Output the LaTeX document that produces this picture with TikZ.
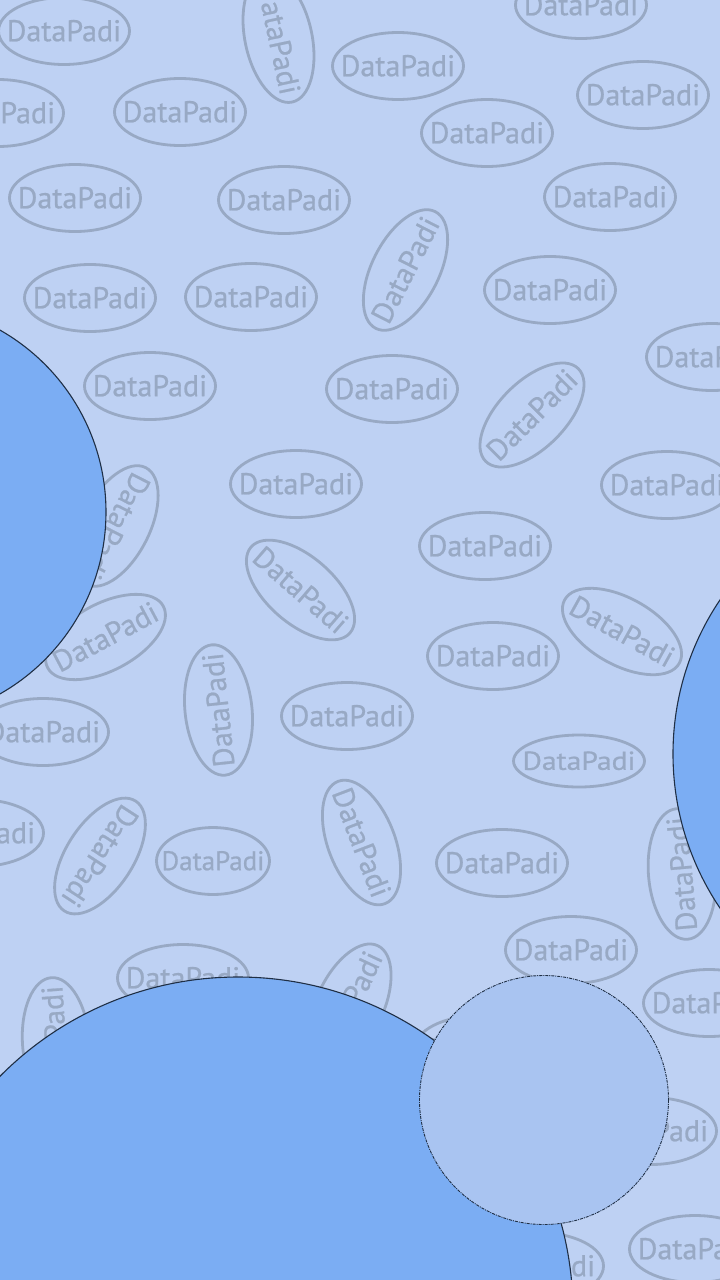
\documentclass[tikz,border=0pt]{standalone}
\usepackage{fontspec}
\newfontfamily\padfont{PT Sans}[FakeBold=0.7]
\usetikzlibrary{shapes.geometric}
\definecolor{bgc}{HTML}{BED1F3}
\definecolor{padc}{HTML}{98A9C4}
\definecolor{bluec}{HTML}{7BADF3}
\definecolor{lightc}{HTML}{A9C4F1}
\definecolor{edgec}{HTML}{1F2F45}
\newcommand{\padtext}[1][1]{\smash{\makebox[0pt]{\raisebox{-.34em}{\scalebox{#1}[1]{DataPadi}}}}}
\tikzset{
  padmark/.style={ellipse,draw=padc,line width=2.8pt,text=padc,inner sep=0pt,outer sep=0pt,
    minimum width=131pt,minimum height=67pt,font=\padfont\fontsize{30}{30}\selectfont},
  bigdisc/.style={fill=bluec,draw=edgec,line width=1.1pt},
  ghostdisc/.style={fill=lightc,draw=edgec,line width=.9pt,dash pattern=on 3pt off 1pt on 1pt off 1pt},
}
\begin{document}
\begin{tikzpicture}[x=1pt,y=-1pt]
\useasboundingbox (0,0) rectangle (720,1280);
\clip (0,0) rectangle (720,1280);
\fill[bgc] (0,0) rectangle (720,1280);
\foreach \n/\x/\y/\r in {
 a/64/31/0, b/278.5/38/-78, c/398/66/0, d/581/5/0, e/643/95/0, f/-2/113/0, g/180/112/0,
 h/487/133/0, i/75/198/0, j/284/200/0, k/610/197/0, l/90/298/0, m/251/297/0, n/405.5/270/63,
 o/550/290/0, q/712/357/0, r/150/386/0, s/392/389/0, t/532/415/45, u/296/484/0, v/667/485/0,
 w/116/526/243, x/485/546/0, y/300.5/590/-41, z/622/631.5/-29, aa/105.5/637/28, ab/493/656/0,
 ac/218.5/710/96, ad/347/716/0, ae/43/732/0, af/-22/833/0, ag/100/856/237, ah/361.5/842.5/-69,
 ai/502/863/0, aj/682/874/95, ak/571/950/0, al/183/978/0, am/56/1043/94, an/350/1005/65,
 ao/709/1003/0, ap/480/1049/0, aq/651/1131/0, ar/695/1249/0, as/538/1266/0}
 {\node[padmark,rotate=\r] (p\n) at (\x,\y) {\padtext};}
\node[padmark,minimum width=131pt,minimum height=52pt,font=\padfont\fontsize{26}{26}\selectfont] (pat) at (579,761) {\padtext[1.14]};
\node[padmark,minimum width=113pt,minimum height=67pt,font=\padfont\fontsize{27}{27}\selectfont] (pau) at (213,861) {\padtext};
\draw[bigdisc] (-103,512) circle (209);
\draw[bigdisc] (949,754) circle (276);
\draw[bigdisc] (238,1312) circle (335);
\draw[ghostdisc] (544,1100) circle (124.5);
\end{tikzpicture}
\end{document}
